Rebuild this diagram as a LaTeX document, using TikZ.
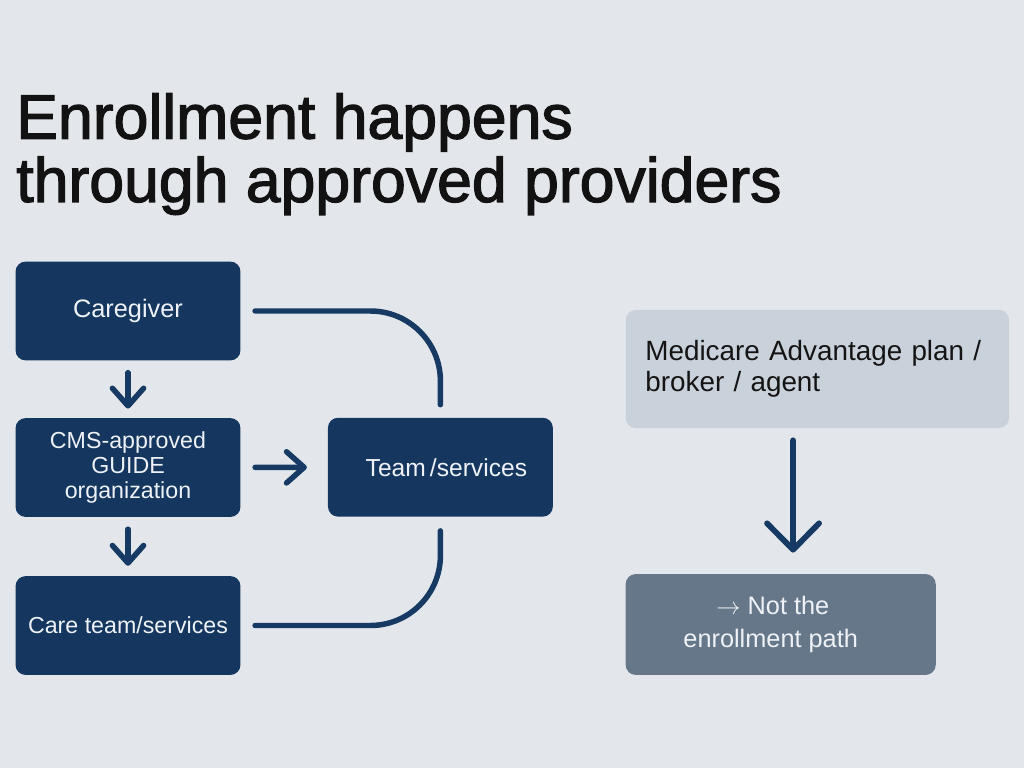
\documentclass[tikz,border=0pt]{standalone}
\usepackage{fontspec}
\setmainfont{Liberation Sans}
\newfontfamily\headfont[FakeBold=2]{Liberation Sans}
\usetikzlibrary{arrows.meta, positioning}
\definecolor{bgpage}{HTML}{E3E7EB}
\definecolor{navy}{HTML}{14365F}
\definecolor{mist}{HTML}{C9D1DB}
\definecolor{slate}{HTML}{67778A}
\definecolor{inkline}{HTML}{163A63}
\definecolor{paper}{HTML}{EEF2F6}

\begin{document}
\begin{tikzpicture}[
  x=0.025cm, y=-0.025cm,
  blk/.style={rectangle, rounded corners=0.25cm, fill=navy, text=paper,
              minimum width=5.62cm, minimum height=2.47cm, inner sep=0pt,
              font=\fontsize{16.5}{17.5}\selectfont, align=center},
  alt/.style={rectangle, rounded corners=0.25cm, fill=mist, text=black!92,
              inner xsep=0.49cm, text width=8.6cm, minimum height=2.95cm,
              font=\fontsize{19.8}{22}\selectfont, align=left},
  dead/.style={rectangle, rounded corners=0.25cm, fill=slate, text=paper,
               minimum width=7.75cm, minimum height=2.52cm, inner sep=0pt,
               font=\fontsize{18}{24}\selectfont, align=center},
  arr/.style={draw=inkline, line width=3.9pt, line cap=round,
              -{Straight Barb[length=4.4mm, width=7.8mm, round]}},
  bigarr/.style={draw=inkline, line width=4.1pt, line cap=round,
                 -{Straight Barb[length=6.6mm, width=13mm, round]}},
  link/.style={draw=inkline, line width=3.9pt, line cap=round,
               rounded corners=1.75cm}
]
\useasboundingbox (0,0) rectangle (1024,768);
\fill[bgpage] (0,0) rectangle (1024,768);
\node[anchor=north west, inner sep=0pt, align=left, text=black!93,
      font=\headfont\fontsize{44.5}{45}\selectfont] (title) at (16,93)
      {Enrollment happens\\through approved providers};
% GUIDE path
\node[blk, font=\fontsize{18}{18}\selectfont] (care) at (128,311) {Caregiver};
\node[blk] (guide)  at (128,467.5) {CMS-approved\\GUIDE\\organization};
\node[blk] (ctm)    at (128,625.5) {Care team/services};
\node[blk, font=\fontsize{17.5}{18}\selectfont] (team) at (440.4,467.2) {\hspace{0.3cm}Team\,/services};
\draw[arr, shorten <=0.3cm, shorten >=0.23cm] (care) -- (guide);
\draw[arr, shorten <=0.3cm, shorten >=0.25cm] (guide) -- (ctm);
\draw[arr, shorten <=0.36cm, shorten >=0.52cm] (guide) -- (team);
\draw[link, shorten <=0.36cm, shorten >=0.32cm] (care.east) -| (team.north);
\draw[link, shorten <=0.36cm, shorten >=0.35cm] (ctm.east) -| (team.south);
% Not the enrollment path
\node[alt]  (ma)   at (817.4,369)   {Medicare Advantage plan /\\broker / agent};
\node[dead] (nope) at (780.7,624.5) {\hspace*{-0.5cm}\,$\rightarrow$ Not the\\\hspace*{-0.5cm}enrollment path};
\draw[bigarr, shorten <=0.3cm, shorten >=0.53cm]
      ([xshift=-0.61cm]ma.south) -- ([xshift=0.31cm]nope.north);
\end{tikzpicture}
\end{document}
